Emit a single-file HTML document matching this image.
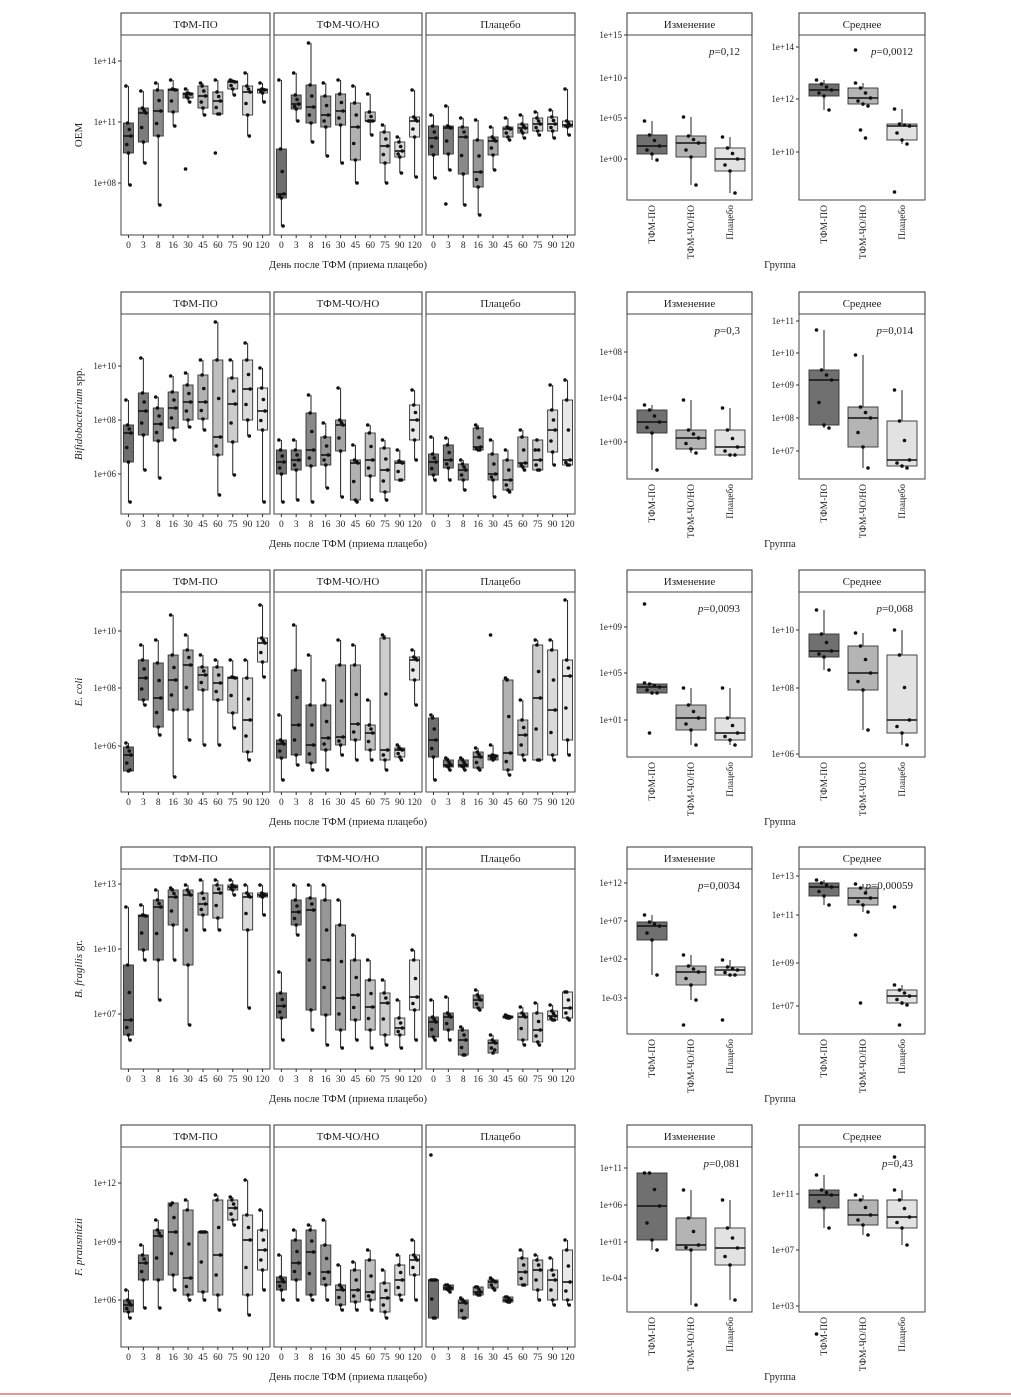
<!DOCTYPE html>
<html><head><meta charset="utf-8"><style>
html,body{margin:0;padding:0;background:#fff}
svg{display:block}
text{font-family:"Liberation Serif",serif;fill:#222}
</style></head><body>
<svg id="s" width="1011" height="1397" xmlns="http://www.w3.org/2000/svg"></svg>
<script>
const S=document.getElementById('s');let h='';
const off=[0,279,557,834,1112];
const titles=['ОЕМ','<tspan font-style="italic">Bifidobacterium</tspan> spp.','<tspan font-style="italic">E. coli</tspan>','<tspan font-style="italic">B. fragilis</tspan> gr.','<tspan font-style="italic">F. prausnitzii</tspan>'];
const days=['0','3','8','16','30','45','60','75','90','120'];
// [whTop,q3,med,q1,whBot]
const F=[
[[[86,123,136,153,185],[91,108,113,142,163],[83,90,111,136,205],[80,89,90,112,126],[89,93,94,98,102],[83,86,96,108,115],[80,92,101,114,114],[80,81,82,89,95],[73,86,92,115,136],[83,89,90,93,102]],
 [[80,149,194,198,226],[73,95,104,109,121],[43,85,107,123,142],[83,96,115,127,156],[80,94,111,125,163],[86,103,127,160,183],[94,112,121,121,135],[125,132,146,163,183],[137,142,151,157,173],[90,117,121,137,177]],
 [[115,126,138,155,178],[106,126,128,154,170],[118,127,137,174,205],[120,140,172,187,215],[127,137,141,155,170],[118,127,129,137,140],[115,124,128,133,138],[112,118,124,131,135],[110,117,124,131,138],[89,121,125,127,135]]],
[[[400,425,433,462,502],[358,393,411,435,470],[397,408,424,441,478],[376,392,408,428,440],[373,385,402,420,427],[360,375,402,419,430],[322,360,437,455,495],[360,378,404,442,475],[343,360,389,420,436],[368,388,411,430,502]],
 [[440,450,462,474,502],[440,450,460,470,500],[395,413,450,466,502],[423,437,455,465,488],[388,420,425,451,497],[445,460,463,500,502],[425,433,460,476,500],[440,448,470,492,500],[450,461,463,480,480],[390,405,420,440,460]],
 [[437,454,462,475,480],[438,445,460,468,480],[460,464,470,480,490],[425,428,447,450,450],[440,454,474,480,497],[450,460,480,490,492],[430,437,463,467,470],[450,440,460,470,470],[385,410,430,452,465],[380,400,460,465,465]]],
[[[743,747,755,771,770],[645,660,678,700,705],[640,663,698,727,735],[615,655,680,710,777],[635,650,665,710,740],[655,667,675,690,745],[660,667,683,700,745],[660,677,678,713,728],[660,678,720,752,760],[605,638,643,662,677]],
 [[715,740,744,758,780],[625,670,725,755,765],[655,705,745,763,770],[680,705,738,750,770],[640,665,737,745,755],[645,665,724,740,760],[700,725,733,750,760],[635,638,750,760,770],[745,748,750,757,760],[650,657,660,680,705]],
 [[715,718,740,757,780],[758,760,765,767,770],[758,760,765,767,770],[748,752,757,768,770],[745,755,756,760,758],[678,680,753,770,775],[700,720,735,755,760],[640,645,698,760,760],[640,650,710,755,760],[600,660,676,740,755]]],
[[[907,965,1020,1035,1040],[905,915,916,950,960],[890,900,907,960,1000],[888,890,897,925,960],[885,890,895,965,1025],[880,893,904,915,930],[880,885,893,918,930],[880,885,887,890,895],[885,893,897,930,1008],[885,893,895,897,915]],
 [[972,993,1006,1018,1040],[885,900,912,925,935],[885,898,910,1010,1030],[885,900,960,1015,1045],[900,925,998,1030,1048],[935,960,995,1020,1040],[960,980,1007,1030,1048],[980,993,1003,1035,1045],[1000,1018,1028,1035,1048],[950,960,997,1010,1040]],
 [[1000,1017,1022,1037,1040],[997,1013,1017,1030,1040],[1027,1030,1040,1055,1055],[990,995,1000,1008,1010],[1035,1040,1043,1053,1050],[1015,1016,1017,1018,1018],[1007,1013,1017,1040,1045],[1003,1013,1030,1042,1045],[1005,1011,1016,1020,1020],[992,992,1008,1018,1020]]],
[[[1290,1300,1305,1312,1318],[1245,1255,1263,1280,1308],[1220,1230,1236,1280,1308],[1205,1203,1232,1275,1290],[1200,1210,1278,1295,1300],[1232,1232,1232,1292,1300],[1195,1200,1255,1295,1310],[1197,1200,1208,1220,1225],[1180,1215,1240,1295,1315],[1210,1230,1250,1270,1290]],
 [[1255,1277,1282,1290,1300],[1230,1240,1263,1280,1300],[1225,1230,1252,1295,1300],[1220,1245,1272,1285,1300],[1265,1285,1290,1305,1310],[1262,1270,1290,1302,1310],[1250,1260,1292,1300,1310],[1270,1283,1298,1312,1318],[1255,1265,1280,1295,1300],[1240,1255,1260,1275,1300]],
 [[1280,1280,1280,1318,1318],[1285,1285,1288,1290,1292],[1298,1300,1303,1318,1318],[1287,1287,1292,1295,1295],[1278,1280,1282,1288,1290],[1297,1297,1300,1302,1302],[1250,1258,1272,1285,1285],[1255,1260,1270,1290,1300],[1258,1270,1280,1300,1305],[1240,1250,1282,1300,1305]]]
];
const OUT=[[[[],[],[],[],[169],[],[153],[],[],[]],[[],[],[],[],[],[],[],[],[],[]],[[],[204],[],[],[],[],[],[],[],[]]],
[[],[],[]],[[],[[],[],[],[],[],[],[],[],[],[]],[[],[],[],[],[635],[],[],[],[],[]]],[[],[[],[],[],[],[],[],[],[],[],[]],[]],[[],[],[[1155]]]];
const yt=[[[61,'1e+14'],[122,'1e+11'],[183,'1e+08']],[[366,'1e+10'],[420,'1e+08'],[474,'1e+06']],[[631,'1e+10'],[688,'1e+08'],[746,'1e+06']],[[884,'1e+13'],[949,'1e+10'],[1014,'1e+07']],[[1183,'1e+12'],[1242,'1e+09'],[1300,'1e+06']]];
const R=[
 {iz:{t:[[35,'1e+15'],[78,'1e+10'],[118,'1e+05'],[159,'1e+00']],b:[[121,135,146,154,160],[117,136,143,157,185],[137,148,159,171,193]],o:[[],[],[]],p:'0,12'},
  sr:{t:[[47,'1e+14'],[99,'1e+12'],[152,'1e+10']],b:[[80,84,90,96,110],[83,88,98,104,106],[109,124,126,140,144]],o:[[],[50,130,138],[192]],p:'0,0012'}},
 {iz:{t:[[352,'1e+08'],[398,'1e+04'],[442,'1e+00']],b:[[405,410,422,433,470],[400,430,438,449,453],[408,430,447,455,455]],o:[[],[],[]],p:'0,3'},
  sr:{t:[[321,'1e+11'],[353,'1e+10'],[385,'1e+09'],[418,'1e+08'],[451,'1e+07']],b:[[330,370,380,425,428],[355,407,418,447,468],[390,421,460,466,468]],o:[[],[],[]],p:'0,014'}},
 {iz:{t:[[627,'1e+09'],[673,'1e+05'],[720,'1e+01']],b:[[683,684,687,693,693],[688,705,718,730,745],[688,718,733,740,745]],o:[[604,733],[],[]],p:'0,0093'},
  sr:{t:[[630,'1e+10'],[688,'1e+08'],[754,'1e+06']],b:[[610,634,651,657,670],[633,646,673,690,730],[630,655,720,733,745]],o:[[],[],[]],p:'0,068'}},
 {iz:{t:[[883,'1e+12'],[921,'1e+07'],[959,'1e+02'],[998,'1e-03']],b:[[915,922,926,940,975],[955,966,972,985,1000],[960,967,970,975,975]],o:[[],[1025],[1020]],p:'0,0034'},
  sr:{t:[[876,'1e+13'],[915,'1e+11'],[963,'1e+09'],[1006,'1e+07']],b:[[880,883,887,896,905],[884,888,898,905,912],[985,990,996,1003,1005]],o:[[],[935,1003],[907,1025]],p:'0,00059'}},
 {iz:{t:[[1168,'1e+11'],[1205,'1e+06'],[1242,'1e+01'],[1278,'1e-04']],b:[[1173,1173,1206,1240,1250],[1190,1218,1245,1250,1305],[1200,1228,1248,1265,1300]],o:[[],[],[]],p:'0,081'},
  sr:{t:[[1194,'1e+11'],[1250,'1e+07'],[1306,'1e+03']],b:[[1175,1190,1195,1208,1228],[1195,1200,1215,1225,1235],[1190,1200,1217,1228,1245]],o:[[1334],[],[1157]],p:'0,43'}}
];
function g(v){return 'rgb('+v+','+v+','+v+')'}
function box(cx,w,b,fill,outs){
 let s='';
 s+=`<line x1="${cx}" x2="${cx}" y1="${b[0]}" y2="${b[4]}" stroke="#222" stroke-width="1"/>`;
 s+=`<rect x="${cx-w/2}" y="${Math.min(b[1],b[3])}" width="${w}" height="${Math.max(1,Math.abs(b[3]-b[1]))}" fill="${fill}" stroke="#333" stroke-width="0.9"/>`;
 s+=`<line x1="${cx-w/2}" x2="${cx+w/2}" y1="${b[2]}" y2="${b[2]}" stroke="#111" stroke-width="1.6"/>`;
 const pts=[b[0],b[1],(b[1]+b[2])/2,b[2],(b[2]+b[3])/2,b[3],b[4]].concat(outs||[]);
 pts.forEach((y,i)=>{const dx=((i*37)%7-3)*w/12;s+=`<circle cx="${cx+dx}" cy="${y}" r="1.8" fill="#111"/>`});
 return s;
}
const PX=[[121,270],[274,422],[426,575]];
const strips=['ТФМ-ПО','ТФМ-ЧО/НО','Плацебо'];
for(let r=0;r<5;r++){
 const o=off[r],st=13+o,top=35+o,bot=235+o;
 for(let p=0;p<3;p++){
  const [x0,x1]=PX[p],w=x1-x0;
  h+=`<rect x="${x0}" y="${st}" width="${w}" height="22" fill="#fff" stroke="#333" stroke-width="1"/>`;
  h+=`<text x="${(x0+x1)/2}" y="${st+15}" font-size="11" text-anchor="middle">${strips[p]}</text>`;
  h+=`<rect x="${x0}" y="${top}" width="${w}" height="${bot-top}" fill="#fff" stroke="#444" stroke-width="1"/>`;
  for(let i=0;i<10;i++){
   const cx=x0+(i+0.5)*w/10;
   const outs=(OUT[r][p]&&OUT[r][p][i])||[];
   h+=box(cx,10,F[r][p][i],g(Math.round(110+i*13.5)),outs);
   h+=`<line x1="${cx}" x2="${cx}" y1="${bot}" y2="${bot+3}" stroke="#333"/>`;
   h+=`<text x="${cx}" y="${bot+13}" font-size="9.5" text-anchor="middle">${days[i]}</text>`;
  }
 }
 yt[r].forEach(([y,t])=>{h+=`<line x1="118" x2="121" y1="${y}" y2="${y}" stroke="#333"/><text x="116" y="${y+3}" font-size="9" text-anchor="end">${t}</text>`});
 h+=`<text transform="translate(82,${(top+bot)/2}) rotate(-90)" font-size="11" text-anchor="middle">${titles[r]}</text>`;
 h+=`<text x="348" y="${bot+33}" font-size="10.5" text-anchor="middle">День после ТФМ (приема плацебо)</text>`;
 // right panels
 const rb=200+o;
 [['iz',627,752,'Изменение'],['sr',799,925,'Среднее']].forEach(([k,x0,x1,lab])=>{
  const d=R[r][k];
  h+=`<rect x="${x0}" y="${st}" width="${x1-x0}" height="22" fill="#fff" stroke="#333"/>`;
  h+=`<text x="${(x0+x1)/2}" y="${st+15}" font-size="11" text-anchor="middle">${lab}</text>`;
  h+=`<rect x="${x0}" y="${top}" width="${x1-x0}" height="${rb-top}" fill="#fff" stroke="#444"/>`;
  d.t.forEach(([y,t])=>{h+=`<line x1="${x0-3}" x2="${x0}" y1="${y}" y2="${y}" stroke="#333"/><text x="${x0-5}" y="${y+3}" font-size="9" text-anchor="end">${t}</text>`});
  const fills=['#707070','#b4b4b4','#e2e2e2'];
  for(let i=0;i<3;i++){
   const cx=x0+25+i*39;
   h+=box(cx,30,d.b[i],fills[i],d.o[i]);
   h+=`<text transform="translate(${cx+3},${rb+5}) rotate(-90)" font-size="9.5" text-anchor="end">${strips[i]}</text>`;
  }
  h+=`<text x="${x1-12}" y="${top+20}" font-size="11" text-anchor="end"><tspan font-style="italic">p</tspan>=${d.p}</text>`;
 });
 h+=`<text x="780" y="${rb+68}" font-size="10.5" text-anchor="middle">Группа</text>`;
}
h+=`<line x1="0" x2="1011" y1="1394" y2="1394" stroke="#c33" stroke-width="1"/>`;
S.innerHTML=h;
</script>
</body></html>
